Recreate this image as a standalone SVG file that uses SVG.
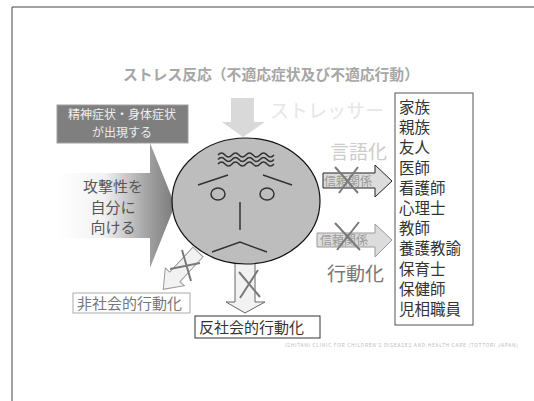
<svg xmlns="http://www.w3.org/2000/svg" width="534" height="401" viewBox="0 0 534 401">
  <style>
    text { font-family: "Noto Sans CJK JP", "Noto Sans", sans-serif; }
    .face { fill: none; stroke: #333; stroke-width: 1.5; }
    .cross { stroke: #7a7a7a; stroke-width: 2; fill: none; }
    .list { font-size: 15.5px; fill: #333; }
    .big { font-size: 19px; }
    .trust { font-size: 12px; fill: #999; }
  </style>
  <defs>
    <linearGradient id="selfGrad" x1="57" y1="0" x2="175" y2="0" gradientUnits="userSpaceOnUse">
      <stop offset="0" stop-color="#ffffff"/>
      <stop offset="0.4" stop-color="#f2f2f2"/>
      <stop offset="0.75" stop-color="#a6a6a6"/>
      <stop offset="1" stop-color="#7a7a7a"/>
    </linearGradient>
  </defs>

  <!-- frame -->
  <path d="M534 7 H12 V401" fill="none" stroke="#444" stroke-width="1"/>

  <!-- heading -->
  <text x="271" y="80" text-anchor="middle" font-size="14.8" font-weight="bold" fill="#a6a6a6">ストレス反応（不適応症状及び不適応行動）</text>

  <g id="connectors">
    <!-- stressor arrow -->
    <polygon points="231,98 254,98 254,122 265,122 243,137 222,122 231,122" fill="#d9d9d9"/>
    <!-- self-directed arrow -->
    <polygon points="57,173 150,173 150,143 175,205 150,268 150,238 57,238" fill="url(#selfGrad)"/>
    <!-- verbalisation arrow -->
    <polygon points="323,173 375,173 375,165 392,181 375,197 375,188 323,188" fill="#dcdcdc" stroke="#222" stroke-width="1"/>
    <text class="trust" x="324" y="186">信頼関係</text>
    <path class="cross" d="M335,167 L358,193 M358,167 L339,193"/>
    <!-- acting-out arrow -->
    <polygon points="317,233 375,233 375,224 392,240 375,257 375,247 317,247" fill="#dcdcdc" stroke="#999" stroke-width="1"/>
    <text class="trust" x="320" y="245" fill="#888">信頼関係</text>
    <path class="cross" d="M335,223 L360,250 M359,222 L337,250"/>
    <!-- anti-social arrow -->
    <polygon points="235,262 255,262 255,302 265,302 245,313 226,302 235,302" fill="#f2f2f2" stroke="#666" stroke-width="1"/>
    <path class="cross" d="M239,272 L260,297 M258,270 L240,298"/>
    <!-- non-social arrow -->
    <g transform="translate(198,252) rotate(133)">
      <polygon points="0,-7 34,-7 34,-13 51,0 34,13 34,7 0,7" fill="#f2f2f2" stroke="#999" stroke-width="1"/>
    </g>
    <path class="cross" d="M182,250 L191,281 M170,269 L200,263" stroke-width="1.6"/>
  </g>

  <g id="symptoms">
    <rect x="57" y="105" width="131" height="38" fill="#7f7f7f" stroke="#a0a0a0" stroke-width="1"/>
    <text x="122" y="119" text-anchor="middle" font-size="12" fill="#eeeeee">精神症状・身体症状</text>
    <text x="122" y="136.5" text-anchor="middle" font-size="12" fill="#eeeeee">が出現する</text>
  </g>

  <g id="self-aggression">
    <text x="113" y="192" text-anchor="middle" font-size="15" fill="#555">攻撃性を</text>
    <text x="113" y="213" text-anchor="middle" font-size="15" fill="#555">自分に</text>
    <text x="113" y="233" text-anchor="middle" font-size="15" fill="#555">向ける</text>
  </g>

  <g id="face">
    <ellipse cx="246" cy="201" rx="74" ry="63" fill="#bdbdbd" stroke="#111" stroke-width="1.2"/>
    <path class="face" stroke-width="1" d="M218 155 q3.5 -4 7 0 t7 0 t7 0 t7 0 t7 0 t7 0 t7 0 t7 0"/>
    <path class="face" stroke-width="1" d="M218 159.5 q3.5 -4 7 0 t7 0 t7 0 t7 0 t7 0 t7 0 t7 0 t7 0"/>
    <path class="face" stroke-width="1" d="M218 164 q3.5 -4 7 0 t7 0 t7 0 t7 0 t7 0 t7 0 t7 0 t7 0"/>
    <line class="face" x1="198" y1="185" x2="228" y2="175"/>
    <line class="face" x1="263" y1="175" x2="292" y2="185"/>
    <ellipse class="face" cx="218" cy="194" rx="7" ry="6"/>
    <ellipse class="face" cx="267" cy="194" rx="7" ry="6"/>
    <line class="face" x1="240" y1="202" x2="240" y2="230"/>
    <polyline class="face" points="212,252 240,242 267,252"/>
  </g>

  <g id="stressor">
    <text class="big" x="270" y="118" fill="#e6e6e6">ストレッサー</text>
  </g>

  <g id="verbal">
    <text class="big" x="330" y="159" fill="#cccccc">言語化</text>
  </g>

  <g id="acting">
    <text class="big" x="327" y="281" fill="#777">行動化</text>
  </g>

  <g id="supporters">
    <rect x="395" y="93" width="78" height="232" fill="#fff" stroke="#555" stroke-width="1"/>
    <text class="list" x="399" y="113">家族</text>
    <text class="list" x="399" y="133.2">親族</text>
    <text class="list" x="399" y="153.4">友人</text>
    <text class="list" x="399" y="173.6">医師</text>
    <text class="list" x="399" y="193.8">看護師</text>
    <text class="list" x="399" y="214">心理士</text>
    <text class="list" x="399" y="234.2">教師</text>
    <text class="list" x="399" y="254.4">養護教諭</text>
    <text class="list" x="399" y="274.6">保育士</text>
    <text class="list" x="399" y="294.8">保健師</text>
    <text class="list" x="399" y="315">児相職員</text>
  </g>

  <g id="non-social">
    <rect x="73" y="293" width="117" height="20" fill="#fff" stroke="#aaa" stroke-width="1"/>
    <text x="77" y="309" font-size="15" fill="#777">非社会的行動化</text>
  </g>

  <g id="anti-social">
    <rect x="195" y="316" width="125" height="22" fill="#fff" stroke="#333" stroke-width="1"/>
    <text x="199" y="333" font-size="15" fill="#333">反社会的行動化</text>
  </g>

  <text x="285" y="347" font-size="5" fill="#bdbdbd" font-family="Liberation Sans, sans-serif" textLength="233">ISHITANI CLINIC FOR CHILDREN'S DISEASES AND HEALTH CARE (TOTTORI JAPAN)</text>
</svg>
